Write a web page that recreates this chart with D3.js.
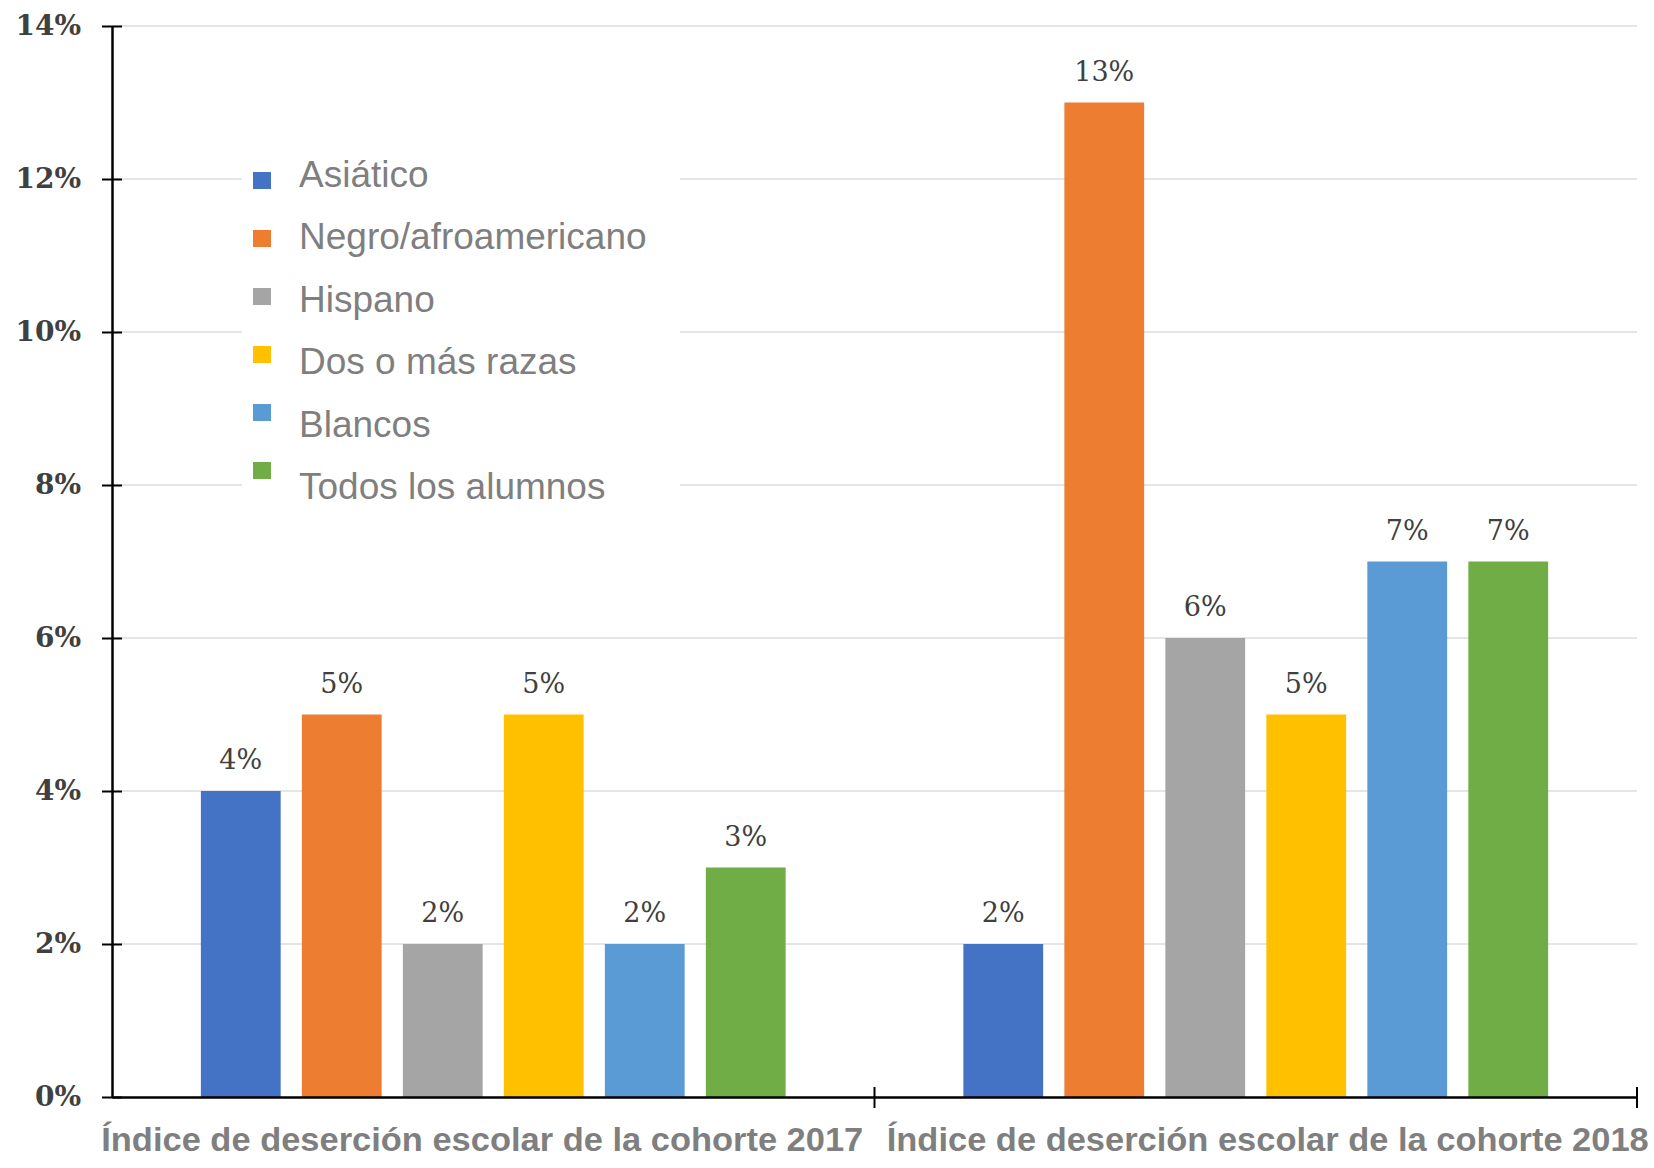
<!DOCTYPE html>
<html><head><meta charset="utf-8">
<script src="https://cdn.jsdelivr.net/npm/d3@7"></script>
<style>body{margin:0;background:#fff}svg{display:block}</style>
</head><body>
<svg id="c" width="1654" height="1168"></svg>
<script>
const cohorts = ["Índice de deserción escolar de la cohorte 2017", "Índice de deserción escolar de la cohorte 2018"];
const series = ["Asiático", "Negro/afroamericano", "Hispano", "Dos o más razas", "Blancos", "Todos los alumnos"];
const values2017 = [4, 5, 2, 5, 2, 3];
const values2018 = [2, 13, 6, 5, 7, 7];
const yTicks = [0, 2, 4, 6, 8, 10, 12, 14];
const colors = ["#4472c4", "#ed7d31", "#a5a5a5", "#ffc000", "#5b9bd5", "#70ad47"];

const data = cohorts.map((c, i) => ({cohort: c, values: [values2017, values2018][i]}));

const svg = d3.select("#c");
const mLeft = 112, mRight = 1637, mTop = 26, mBottom = 1097;

const x0 = d3.scaleBand().domain(cohorts).range([mLeft, mRight]).padding(0);
const x1 = d3.scaleBand().domain(series).range([0, x0.bandwidth()]).paddingInner(0.21).paddingOuter(0.88);
const y = d3.scaleLinear().domain([0, 14]).range([mBottom, mTop]);
const color = d3.scaleOrdinal().domain(series).range(colors);

// gridlines
svg.append("g").selectAll("line").data(yTicks.filter(d => d > 0)).join("line")
  .attr("x1", mLeft).attr("x2", mRight)
  .attr("y1", d => y(d)).attr("y2", d => y(d))
  .attr("stroke", "#dcdcdc").attr("stroke-width", 1.5);

// legend background
const lg = svg.append("g");
lg.append("rect").attr("x", 242).attr("y", 140).attr("width", 438).attr("height", 372).attr("fill", "#fff");

// bars
const groups = svg.append("g").selectAll("g").data(data).join("g")
  .attr("transform", d => `translate(${x0(d.cohort)},0)`);
groups.selectAll("rect").data(d => d.values.map((v, i) => ({s: series[i], v}))).join("rect")
  .attr("x", d => x1(d.s)).attr("width", x1.bandwidth())
  .attr("y", d => y(d.v)).attr("height", d => y(0) - y(d.v))
  .attr("fill", d => color(d.s));
groups.selectAll("text").data(d => d.values.map((v, i) => ({s: series[i], v}))).join("text")
  .attr("x", d => x1(d.s) + x1.bandwidth() / 2).attr("y", d => y(d.v) - 22)
  .attr("text-anchor", "middle")
  .attr("font-family", "DejaVu Serif").attr("font-size", 27)
  .attr("fill", "#404040")
  .text(d => d.v + "%");

// y axis
const ya = svg.append("g").attr("transform", `translate(${mLeft},0)`)
  .call(d3.axisLeft(y).tickValues(yTicks).tickFormat(d => d + "%").tickSizeInner(10).tickSizeOuter(0).tickPadding(22));
ya.select(".domain").attr("stroke", "#000").attr("stroke-width", 2.5);
ya.selectAll(".tick line").attr("stroke", "#000").attr("stroke-width", 2).attr("x2", 10).attr("x1", -10);
ya.selectAll(".tick text").attr("font-family", "DejaVu Serif").attr("font-weight", "bold")
  .attr("font-size", 28).attr("fill", "#404040").attr("x", -31);

// x axis
const xa = svg.append("g").attr("transform", `translate(0,${mBottom})`)
  .call(d3.axisBottom(x0).tickSize(0).tickPadding(30));
xa.select(".domain").attr("stroke", "#000").attr("stroke-width", 2.5);
xa.selectAll(".tick text").attr("font-family", "Liberation Sans, Arial").attr("font-weight", "bold")
  .attr("font-size", 34).attr("fill", "#7f7f7f").attr("dy", "0.71em")
  .attr("x", (d, i) => i === 0 ? -11 : 12)
  .attr("textLength", 762).attr("lengthAdjust", "spacingAndGlyphs");
const bounds = cohorts.map(c => x0(c) + x0.bandwidth());
svg.append("g").selectAll("line").data(bounds).join("line")
  .attr("x1", d => d).attr("x2", d => d).attr("y1", mBottom - 10).attr("y2", mBottom + 11)
  .attr("stroke", "#000").attr("stroke-width", 2);

// legend
const items = lg.selectAll("g.item").data(series).join("g").attr("class", "item");
items.append("rect")
  .attr("x", 253).attr("y", (d, i) => 172 + i * 58).attr("width", 18).attr("height", 17)
  .attr("fill", d => color(d));
items.append("text")
  .attr("x", 299).attr("y", (d, i) => 174 + i * 62.4).attr("dy", "0.35em")
  .attr("font-family", "Liberation Sans, Arial").attr("font-size", 37).attr("fill", "#7f7f7f")
  .text(d => d);
</script>
</body></html>
